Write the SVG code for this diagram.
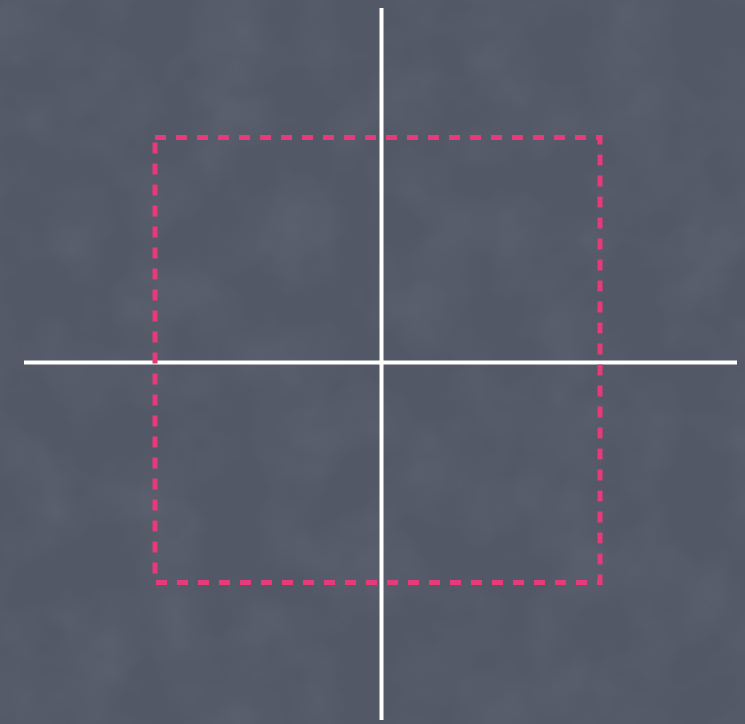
<svg xmlns="http://www.w3.org/2000/svg" width="745" height="724" viewBox="0 0 745 724">
  <defs>
    <filter id="chalk" x="0" y="0" width="100%" height="100%">
      <feTurbulence type="fractalNoise" baseFrequency="0.015" numOctaves="3" seed="4" result="n"/>
      <feColorMatrix in="n" type="matrix" values="0 0 0 0 1  0 0 0 0 1  0 0 0 0 1  0.5 0 0 0 -0.18" result="w"/>
      <feComposite in="w" in2="SourceGraphic" operator="in"/>
    </filter>
    <style>
      .axis { stroke: #ffffff; stroke-width: 4; fill: none; }
      .box { stroke: #e8397b; stroke-width: 5; fill: none; stroke-dasharray: 11 10; }
    </style>
  </defs>
  <rect id="background" x="0" y="0" width="745" height="724" fill="#525866"/>
  <rect x="0" y="0" width="745" height="724" fill="#525866" filter="url(#chalk)" opacity="0.18"/>
  <g id="connectors">
    <line class="axis" x1="381.5" y1="8" x2="381.5" y2="720"/>
    <line class="axis" x1="24" y1="362.5" x2="737" y2="362.5"/>
  </g>
  <g id="region">
    <path class="box" d="M155 137.5 H600 V582.5 H155 Z"/>
  </g>
</svg>
